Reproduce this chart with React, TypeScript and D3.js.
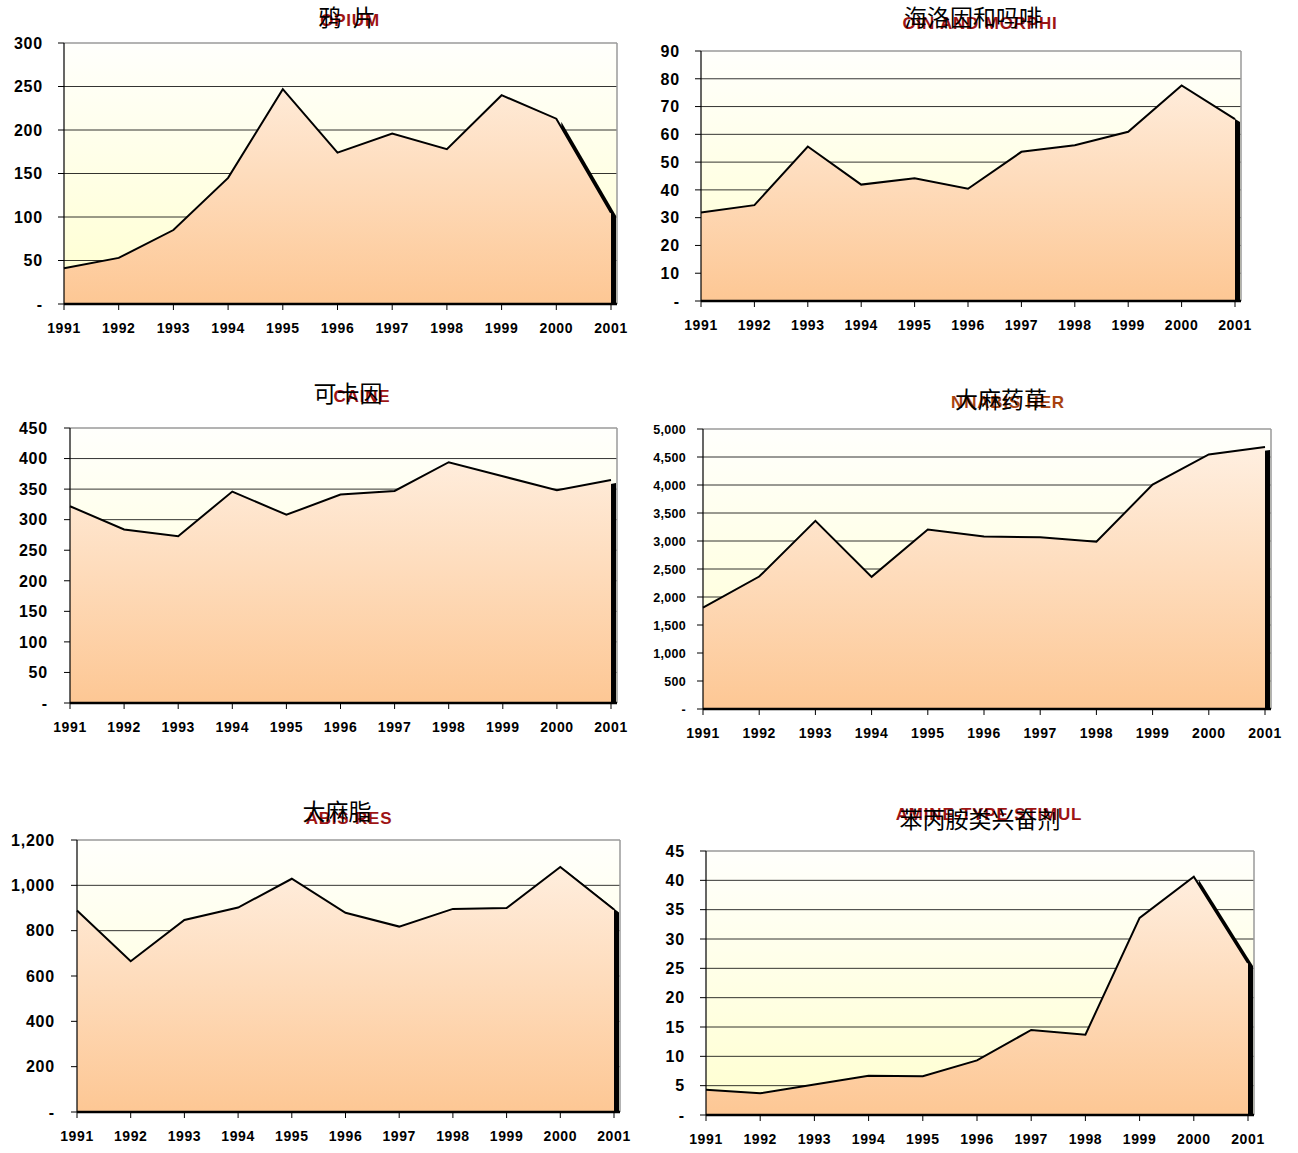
import * as d3 from "d3";

const YEARS = ["1991", "1992", "1993", "1994", "1995", "1996", "1997", "1998", "1999", "2000", "2001"];

const OPIUM = [41, 53, 85, 145, 247, 174, 196, 178, 240, 213, 105];
const HEROIN = [31.9, 34.5, 55.6, 41.9, 44.2, 40.4, 53.7, 56.1, 60.9, 77.6, 65.5];
const COCAINE = [322, 284, 273, 346, 308, 341, 347, 394, 371, 348, 365];
const CANNABIS_HERB = [1810, 2365, 3360, 2360, 3205, 3080, 3068, 2986, 4008, 4545, 4680];
const CANNABIS_RESIN = [889, 665, 847, 902, 1029, 879, 818, 896, 900, 1081, 893];
const ATS = [4.3, 3.7, 5.2, 6.7, 6.6, 9.3, 14.5, 13.7, 33.6, 40.6, 25.9];

const OPIUM_TICKS = [0, 50, 100, 150, 200, 250, 300];
const HEROIN_TICKS = [0, 10, 20, 30, 40, 50, 60, 70, 80, 90];
const COCAINE_TICKS = [0, 50, 100, 150, 200, 250, 300, 350, 400, 450];
const HERB_TICKS = [0, 500, 1000, 1500, 2000, 2500, 3000, 3500, 4000, 4500, 5000];
const RESIN_TICKS = [0, 200, 400, 600, 800, 1000, 1200];
const ATS_TICKS = [0, 5, 10, 15, 20, 25, 30, 35, 40, 45];

const fmt = d3.format(",");
const DEPTH = 6;
const SHADOW_DY = 3;

type Box = { left: number; right: number; top: number; bottom: number };

type PanelProps = {
  id: string;
  values: number[];
  ticks: number[];
  box: Box;
  labelGap: number;
  yFont: number;
  zh: string;
  en: string;
  zhX: number;
  zhY: number;
  enX: number;
  enY: number;
  enColor?: string;
};

const Panel = ({ id, values, ticks, box, labelGap, yFont, zh, en, zhX, zhY, enX, enY, enColor = "#9e1414" }: PanelProps) => {
  const x = d3.scalePoint<string>().domain(YEARS).range([box.left, box.right - DEPTH]);
  const y = d3
    .scaleLinear()
    .domain([0, ticks[ticks.length - 1]])
    .range([box.bottom, box.top]);

  const n = values.length;
  const area = d3
    .area<number>()
    .x((_, i) => x(YEARS[i]) as number)
    .y0(box.bottom)
    .y1((d) => y(d));
  // side face only on the last segment
  const lastArea = d3
    .area<number>()
    .x((_, i) => x(YEARS[n - 2 + i]) as number)
    .y0(box.bottom - SHADOW_DY)
    .y1((d) => y(d));
  const line = d3
    .line<number>()
    .x((_, i) => x(YEARS[i]) as number)
    .y((d) => y(d));

  return (
    <g>
      <defs>
        <linearGradient id={`bg-${id}`} gradientUnits="userSpaceOnUse" x1={0} x2={0} y1={box.top} y2={box.bottom}>
          <stop offset="0%" stopColor="#fffffc" />
          <stop offset="100%" stopColor="#ffffcf" />
        </linearGradient>
        <linearGradient id={`fill-${id}`} gradientUnits="userSpaceOnUse" x1={0} x2={0} y1={box.top} y2={box.bottom}>
          <stop offset="0%" stopColor="#fff2e6" />
          <stop offset="100%" stopColor="#fdc794" />
        </linearGradient>
      </defs>

      {/* plot background */}
      <rect
        x={box.left}
        y={box.top}
        width={box.right - box.left}
        height={box.bottom - box.top}
        fill={`url(#bg-${id})`}
      />

      {/* gridlines */}
      {ticks.slice(1, -1).map((t) => (
        <line key={t} x1={box.left} x2={box.right} y1={y(t)} y2={y(t)} stroke="#000" strokeWidth={0.8} />
      ))}
      <line x1={box.left} x2={box.right} y1={box.top} y2={box.top} stroke="#9a9a9a" strokeWidth={1.5} />
      <line x1={box.right} x2={box.right} y1={box.top} y2={box.bottom} stroke="#9a9a9a" strokeWidth={1.5} />

      {/* depth shadow */}
      <path d={lastArea(values.slice(n - 2)) ?? ""} transform={`translate(${DEPTH - 1},${SHADOW_DY})`} fill="#000" />
      {/* area */}
      <path d={area(values) ?? ""} fill={`url(#fill-${id})`} />
      <path d={line(values) ?? ""} fill="none" stroke="#000" strokeWidth={2} strokeLinejoin="miter" />

      {/* axes */}
      <line x1={box.left} x2={box.left} y1={box.top} y2={box.bottom} stroke="#000" strokeWidth={1.2} />
      <line x1={box.left} x2={box.right} y1={box.bottom} y2={box.bottom} stroke="#000" strokeWidth={2.5} />
      {ticks.map((t) => (
        <g key={t}>
          <line x1={box.left - 6} x2={box.left} y1={y(t)} y2={y(t)} stroke="#000" strokeWidth={1} />
          <text
            x={box.left - labelGap}
            y={y(t)}
            dy="0.36em"
            textAnchor="end"
            fontFamily="'Liberation Sans', Arial, sans-serif"
            fontWeight="bold"
            fontSize={yFont}
            letterSpacing={yFont > 14 ? 0.8 : 0.3}
          >
            {t === 0 ? "-" : fmt(t)}
          </text>
        </g>
      ))}
      {YEARS.map((yr) => (
        <g key={yr}>
          <line x1={x(yr)} x2={x(yr)} y1={box.bottom} y2={box.bottom + 6} stroke="#000" strokeWidth={1} />
          <text
            x={x(yr)}
            y={box.bottom + 29}
            textAnchor="middle"
            fontFamily="'Liberation Sans', Arial, sans-serif"
            fontWeight="bold"
            fontSize={14}
            letterSpacing={0.6}
          >
            {yr}
          </text>
        </g>
      ))}

      {/* titles */}
      <text
        x={enX}
        y={enY}
        textAnchor="middle"
        fontFamily="'Liberation Sans', Arial, sans-serif"
        fontWeight="bold"
        fontSize={17}
        letterSpacing={0.8}
        fill={enColor}
      >
        {en}
      </text>
      <text x={zhX} y={zhY} textAnchor="middle" fontFamily="'Noto Sans CJK SC', sans-serif" fontSize={23} fill="#000">
        {zh}
      </text>
    </g>
  );
};

export default function App() {
  return (
    <svg
      width={1298}
      height={1153}
      style={{ position: "absolute", left: 0, top: 0, background: "#fff" }}
    >
      <Panel
        id="opium"
        values={OPIUM}
        ticks={OPIUM_TICKS}
        box={{ left: 64, right: 617, top: 43, bottom: 304 }}
        labelGap={21}
        yFont={16}
        zh={"鸦\u2002片"}
        en="OPIUM"
        zhX={347}
        zhY={26}
        enX={350}
        enY={26}
      />
      <Panel
        id="heroin"
        values={HEROIN}
        ticks={HEROIN_TICKS}
        box={{ left: 701, right: 1241, top: 51, bottom: 301 }}
        labelGap={21}
        yFont={16}
        zh="海洛因和吗啡"
        en="OIN AND MORPHI"
        zhX={973}
        zhY={26}
        enX={980}
        enY={29}
      />
      <Panel
        id="cocaine"
        values={COCAINE}
        ticks={COCAINE_TICKS}
        box={{ left: 70, right: 617, top: 428, bottom: 703 }}
        labelGap={22}
        yFont={16}
        zh="可卡因"
        en="CAINE"
        zhX={348}
        zhY={402}
        enX={362}
        enY={402}
      />
      <Panel
        id="herb"
        values={CANNABIS_HERB}
        ticks={HERB_TICKS}
        box={{ left: 703, right: 1271, top: 429, bottom: 709 }}
        labelGap={17}
        yFont={12.5}
        zh="大麻药草"
        en="NNABIS HER"
        zhX={1001}
        zhY={408}
        enX={1008}
        enY={408}
        enColor="#a8420f"
      />
      <Panel
        id="resin"
        values={CANNABIS_RESIN}
        ticks={RESIN_TICKS}
        box={{ left: 77, right: 620, top: 840, bottom: 1112 }}
        labelGap={22}
        yFont={16}
        zh="大麻脂"
        en="ABIS RES"
        zhX={337}
        zhY={820}
        enX={349}
        enY={824}
      />
      <Panel
        id="ats"
        values={ATS}
        ticks={ATS_TICKS}
        box={{ left: 706, right: 1254, top: 851, bottom: 1115 }}
        labelGap={21}
        yFont={16}
        zh="苯丙胺类兴奋剂"
        en="AMINE-TYPE STIMUL"
        zhX={980}
        zhY={828}
        enX={989}
        enY={820}
      />
    </svg>
  );
}
